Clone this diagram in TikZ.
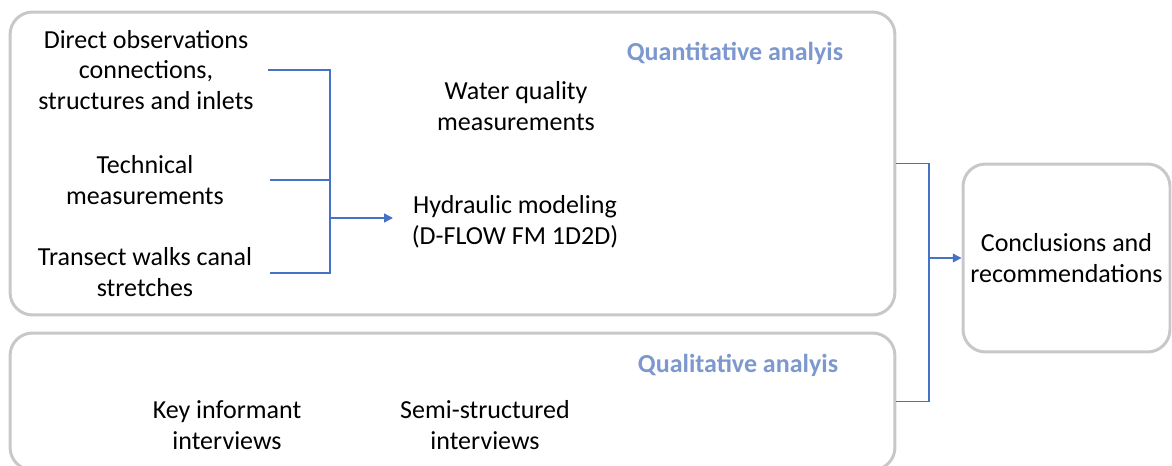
\documentclass[tikz,border=0pt]{standalone}
\usepackage{fontspec}
\setmainfont{Carlito}
\usetikzlibrary{arrows.meta}
\definecolor{panelgray}{RGB}{200,200,200}
\definecolor{linkblue}{RGB}{68,114,196}
\definecolor{titleblue}{RGB}{124,152,207}

\begin{document}
\begin{tikzpicture}[x=0.02cm,y=-0.02cm,
  panel/.style={draw=panelgray,line width=1.7pt,rounded corners=0.45cm},
  label/.style={align=center,font=\fontsize{14.8}{17.4}\selectfont,inner sep=2pt},
  heading/.style={font=\fontsize{14.8}{17.4}\selectfont\bfseries,text=titleblue},
  link/.style={draw=linkblue,line width=0.8pt},
  flow/.style={link,-{Triangle[length=5pt,width=5pt]}}]
\clip (0,0) rectangle (1172,466) ;

% boxes
\node[panel,minimum width=17.7cm,minimum height=6.06cm] (quant) at (452.5,163.5) {} ;
\node[panel,minimum width=17.7cm,minimum height=2.74cm] (qual) at (452.5,401.5) {} ;
\node[panel,label,minimum width=4.14cm,minimum height=3.76cm] (concl) at (1066.5,258) {Conclusions and\\recommendations} ;

\node[heading] (quanttitle) at (735,53) {Quantitative analyis} ;
\node[heading] (qualtitle) at (738,365) {Qualitative analyis} ;

% quantitative
\node[label] (direct) at (146,70) {Direct observations\\connections,\\structures and inlets} ;
\node[label] (technical) at (145,180) {Technical\\measurements} ;
\node[label] (transect) at (145,272) {Transect walks canal\\stretches} ;
\node[label] (water) at (516,106) {Water quality\\measurements} ;
\node[label] (hydraulic) at (515,222) {Hydraulic modeling\\(D-FLOW FM 1D2D)} ;

% qualitative
\node[label] (keyinf) at (227,425) {Key informant\\interviews} ;
\node[label] (semistr) at (485,425) {Semi-structured\\interviews} ;

% connectors
\coordinate (d1) at (268,70) ;
\coordinate (t1) at (270,180) ;
\coordinate (s1) at (270,273) ;
\coordinate (join) at (330,218) ;
\coordinate (hin) at (393,218) ;
\draw[link] (d1) -| (join) ;
\draw[link] (t1) -| (join) ;
\draw[link] (s1) -| (join) ;
\draw[flow] (join) -- (hin) ;

\coordinate (merge) at (929,258) ;
\draw[link] (quant.east) -| (merge) ;
\draw[link] (qual.east) -| (merge) ;
\draw[flow] (merge) -- (concl.west) ;

\end{tikzpicture}
\end{document}
